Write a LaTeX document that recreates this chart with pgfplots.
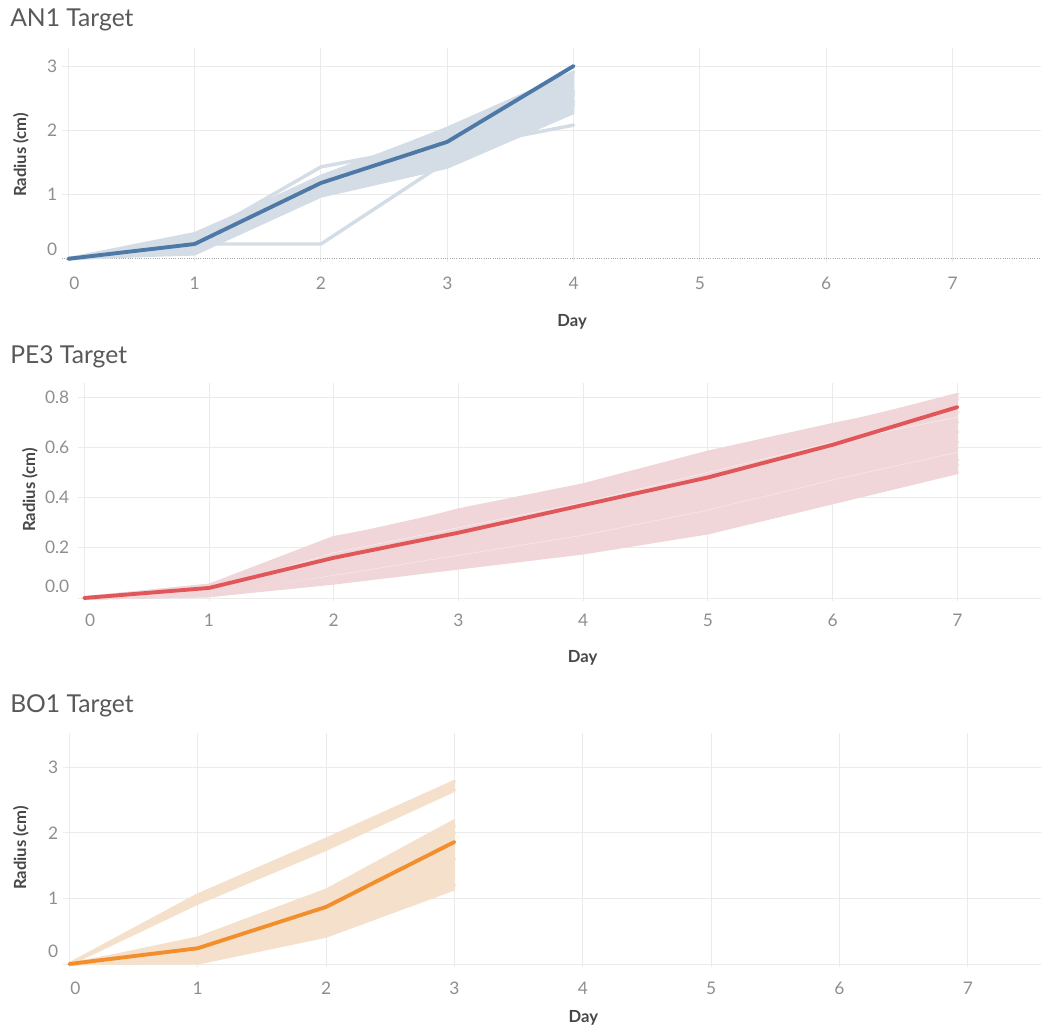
\documentclass[border=0pt]{standalone}
\usepackage{fontspec}
\setmainfont{Lato}
\usepackage{pgfplots}
\pgfplotsset{compat=1.18}
\usepackage{pgfplotstable}

\definecolor{gridc}{HTML}{EBEBEB}
\definecolor{tickc}{HTML}{8E8E8E}
\definecolor{labc}{HTML}{474747}
\definecolor{titc}{HTML}{595959}
\definecolor{blueband}{HTML}{D4DDE5}
\definecolor{bluemain}{HTML}{4E79A7}
\definecolor{redband}{HTML}{F0D6D8}
\definecolor{redmain}{HTML}{E15759}
\definecolor{orband}{HTML}{F5E0CC}
\definecolor{ormain}{HTML}{F28E2B}

% AN1
\pgfplotstableread{
day main a b c d e f
0 0 0 0 0 0 0 0
1 0.23 0.30 0.39 0.23 0.15 0.20 0.10
2 1.18 1.43 1.25 0.23 1.05 1.10 1.00
3 1.82 1.80 2.03 1.52 1.55 1.65 1.70
4 3.00 2.60 2.90 2.40 2.45 2.55 2.08
}\tabA

% PE3
\pgfplotstableread{
day main p1 p2 p3 p4 p5 p6 p7 p8 p9 p10 p11
0 0 0 0 0 0 0 0 0 0 0 0 0
1 0.04 0.05 0.05 0.04 0.03 0.03 0.02 0.02 0.01 0.01 0.01 0.01
2 0.16 0.24 0.22 0.20 0.18 0.14 0.12 0.11 0.09 0.07 0.06 0.08
3 0.26 0.33 0.35 0.31 0.28 0.24 0.21 0.19 0.17 0.15 0.12 0.13
4 0.37 0.44 0.45 0.41 0.38 0.34 0.31 0.28 0.25 0.22 0.18 0.20
5 0.48 0.56 0.58 0.54 0.50 0.45 0.42 0.38 0.35 0.30 0.26 0.28
6 0.61 0.68 0.69 0.66 0.62 0.58 0.54 0.50 0.47 0.43 0.38 0.41
7 0.76 0.81 0.79 0.74 0.72 0.70 0.66 0.62 0.58 0.55 0.50 0.53
}\tabB

% BO1
\pgfplotstableread{
day main h1 h2 a b c d
0 0 0 0 0 0 0 0
1 0.24 0.93 1.05 0.35 0.15 0.05 0.28
2 0.87 1.75 1.90 1.05 0.70 0.50 0.95
3 1.86 2.65 2.78 2.10 1.60 1.20 2.00
}\tabC

\pgfplotsset{
  tabstyle/.style={
    scale only axis,
    anchor=south west,
    axis line style={draw=none},
    major tick length=0pt,
    tick style={draw=none},
    grid=major,
    major grid style={gridc, line width=0.7pt},
    tick label style={font=\fontsize{13}{15}\selectfont, text=tickc},
    label style={font=\bfseries\fontsize{12.5}{14}\selectfont, text=labc},
    xlabel={Day}, ylabel={Radius (cm)},
    xtick={1,2,3,4,5,6,7},
    xticklabels={1,2,3,4,5,6,7},
    extra x ticks={0}, extra x tick labels={0},
    extra x tick style={grid=major, xticklabel style={xshift=4.5pt}},
    yticklabel style={anchor=east},
    clip=false,
  },
  band/.style={line width=2.6pt, line join=round, line cap=round},
  mainl/.style={line width=2.9pt, line join=round, line cap=round},
}

\begin{document}
\begin{tikzpicture}
\path[use as bounding box] (0,0) rectangle (780.75pt,-772.5pt);

\node[anchor=west, font=\fontsize{18.5}{21}\selectfont, text=titc, inner sep=0pt] at (7.5pt,-15pt) {AN1 Target};
\node[anchor=west, font=\fontsize{18.5}{21}\selectfont, text=titc, inner sep=0pt] at (7.5pt,-267.75pt) {PE3 Target};
\node[anchor=west, font=\fontsize{18.5}{21}\selectfont, text=titc, inner sep=0pt] at (7.5pt,-529.5pt) {BO1 Target};

% ---------- AN1 ----------
\begin{axis}[tabstyle,
  at={(46.5pt,-196.5pt)}, width=734.25pt, height=160.5pt,
  xmin=-0.05, xmax=7.70, ymin=-0.05, ymax=3.28,
  ytick={1,2,3}, yticklabels={1,2,3},
  extra y ticks={0}, extra y tick labels={0},
  extra y tick style={grid=major, major grid style={densely dotted, gray!70, line width=0.6pt}, yticklabel style={yshift=7.5pt}},
  xticklabel style={anchor=center, yshift=-15.75pt},
  xlabel style={at={(axis description cs:0.521,-0.28)}, anchor=center},
  ylabel style={at={(axis description cs:-0.042,0.5)}, anchor=center},
]
\addplot[fill=blueband, draw=blueband, line width=1pt] coordinates {(0,0) (1,0.39) (2,1.30) (3,2.03) (4,2.92) (4,2.26) (3,1.41) (2,0.96) (1,0.06) (0,0)};
\addplot[band, blueband] table[x=day, y=a] {\tabA};
\addplot[band, blueband] table[x=day, y=b] {\tabA};
\addplot[band, blueband] table[x=day, y=c] {\tabA};
\addplot[band, blueband] table[x=day, y=d] {\tabA};
\addplot[band, blueband] table[x=day, y=e] {\tabA};
\addplot[band, blueband] table[x=day, y=f] {\tabA};
\addplot[mainl, bluemain] table[x=day, y=main] {\tabA};
\end{axis}

% ---------- PE3 ----------
\begin{axis}[tabstyle,
  at={(58.5pt,-450.75pt)}, width=722.25pt, height=163.5pt,
  xmin=-0.05, xmax=7.67, ymin=-0.012, ymax=0.856,
  ytick={0.2,0.4,0.6,0.8}, yticklabels={0.2,0.4,0.6,0.8},
  extra y ticks={0}, extra y tick labels={0.0},
  extra y tick style={grid=major, yticklabel style={yshift=9pt}},
  yticklabel style={xshift=-3pt},
  xticklabel style={anchor=center, yshift=-14.25pt},
  xlabel style={at={(axis description cs:0.524,-0.261)}, anchor=center},
  ylabel style={at={(axis description cs:-0.050,0.509)}, anchor=center},
]
\addplot[fill=redband, draw=redband, line width=1pt] coordinates {(0,0) (1,0.05) (2,0.24) (3,0.35) (4,0.45) (5,0.58) (6,0.69) (7,0.81) (7,0.50) (6,0.38) (5,0.26) (4,0.18) (3,0.12) (2,0.06) (1,0.01) (0,0)};
\addplot[band, redband] table[x=day, y=p1] {\tabB};
\addplot[band, redband] table[x=day, y=p2] {\tabB};
\addplot[band, white, line width=0.5pt, opacity=0.5] table[x=day, y=p4] {\tabB};
\addplot[band, white, line width=0.5pt, opacity=0.4] table[x=day, y=p8] {\tabB};
\addplot[band, redband] table[x=day, y=p3] {\tabB};
\addplot[band, redband] table[x=day, y=p5] {\tabB};
\addplot[band, redband] table[x=day, y=p6] {\tabB};
\addplot[band, redband] table[x=day, y=p7] {\tabB};
\addplot[band, redband] table[x=day, y=p9] {\tabB};
\addplot[band, redband] table[x=day, y=p10] {\tabB};
\addplot[band, redband] table[x=day, y=p11] {\tabB};
\addplot[mainl, redmain] table[x=day, y=main] {\tabB};
\end{axis}

% ---------- BO1 ----------
\begin{axis}[tabstyle,
  at={(47.25pt,-725.25pt)}, width=733.5pt, height=175.5pt,
  xmin=-0.05, xmax=7.57, ymin=-0.046, ymax=3.52,
  ytick={1,2,3}, yticklabels={1,2,3},
  extra y ticks={0}, extra y tick labels={0},
  extra y tick style={grid=major, yticklabel style={yshift=9.75pt}},
  xticklabel style={anchor=center, yshift=-15.75pt},
  xlabel style={at={(axis description cs:0.532,-0.218)}, anchor=center},
  ylabel style={at={(axis description cs:-0.043,0.509)}, anchor=center},
]
\addplot[fill=orband, draw=orband, line width=1pt] coordinates {(0,0) (1,1.05) (2,1.90) (3,2.78) (3,2.65) (2,1.75) (1,0.93) (0,0)};
\addplot[fill=orband, draw=orband, line width=1pt] coordinates {(0,0) (1,0.41) (2,1.14) (3,2.20) (3,1.13) (2,0.41) (1,0.0) (0,0)};
\addplot[band, orband] table[x=day, y=h1] {\tabC};
\addplot[band, orband] table[x=day, y=h2] {\tabC};
\addplot[band, orband] table[x=day, y=a] {\tabC};
\addplot[band, orband] table[x=day, y=b] {\tabC};
\addplot[band, orband] table[x=day, y=c] {\tabC};
\addplot[band, orband] table[x=day, y=d] {\tabC};
\addplot[mainl, ormain] table[x=day, y=main] {\tabC};
\end{axis}
\end{tikzpicture}
\end{document}
